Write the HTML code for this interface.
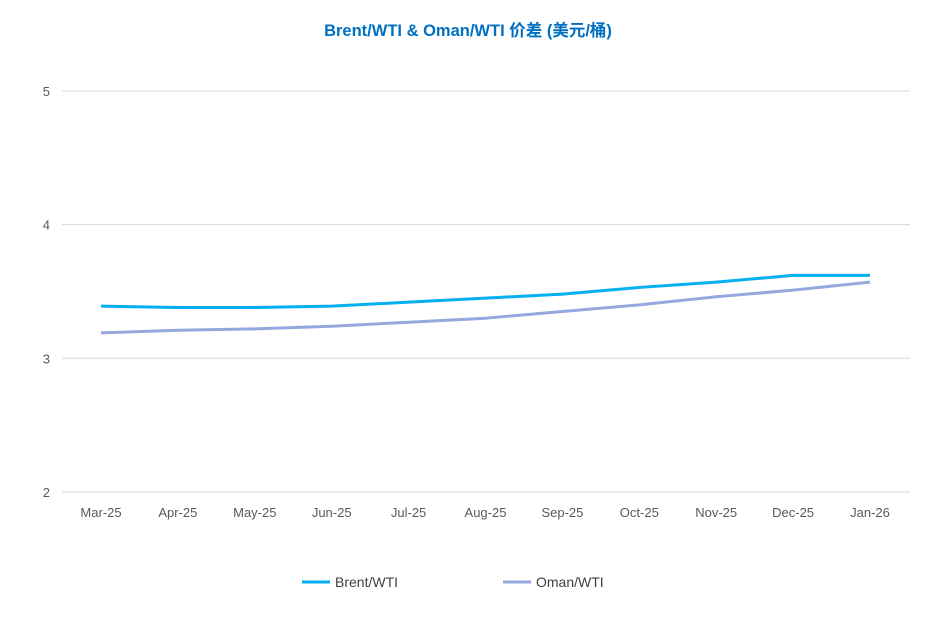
<!DOCTYPE html>
<html><head><meta charset="utf-8"><style>
body{margin:0;background:#fff;}
svg{display:block;font-family:"Liberation Sans","Noto Sans CJK SC",sans-serif;}
</style></head><body>
<svg id="chart" width="937" height="634">
<text x="468" y="36" text-anchor="middle" font-size="16.5" font-weight="bold" fill="#0070C0">Brent/WTI &amp; Oman/WTI 价差 (美元/桶)</text>
<g id="grid"></g><g id="xl"></g><g id="series"></g>
<g>
<line x1="302" y1="582" x2="330" y2="582" stroke="#00B0F0" stroke-width="3"/>
<text x="335" y="587" font-size="14" fill="#404040">Brent/WTI</text>
<line x1="503" y1="582" x2="531" y2="582" stroke="#95A8DE" stroke-width="3"/>
<text x="536" y="587" font-size="14" fill="#404040">Oman/WTI</text>
</g>
</svg>
<script>
const categories=["Mar-25","Apr-25","May-25","Jun-25","Jul-25","Aug-25","Sep-25","Oct-25","Nov-25","Dec-25","Jan-26"];
const brentWti=[3.39,3.38,3.38,3.39,3.42,3.45,3.48,3.53,3.57,3.62,3.62];
const omanWti=[3.19,3.21,3.22,3.24,3.27,3.30,3.35,3.40,3.46,3.51,3.57];
const yTicks=[2,3,4,5];
const NS="http://www.w3.org/2000/svg";
const y=v=>492-(v-2)*133.7;
const x=i=>101+i*76.9;
function mk(t,a,p){const e=document.createElementNS(NS,t);for(const k in a)e.setAttribute(k,a[k]);p.appendChild(e);return e;}
const g=document.getElementById('grid');
yTicks.forEach(t=>{
const l=mk('line',{x1:62,x2:910,y1:y(t),y2:y(t),stroke:'#D9D9D9','stroke-width':1},g);


const tx=mk('text',{x:50,y:y(t)+5,'text-anchor':'end','font-size':13,fill:'#595959'},g);
tx.textContent=t;


});
const xl=document.getElementById('xl');
categories.forEach((c,i)=>{
const tx=mk('text',{x:x(i),y:517,'text-anchor':'middle','font-size':13,fill:'#595959'},xl);
tx.textContent=c;


});
const s=document.getElementById('series');
[[brentWti,'#00B0F0','brent-wti-line'],[omanWti,'#95A8DE','oman-wti-line']].forEach(([d,c,n])=>{
const p=mk('polyline',{points:d.map((v,i)=>x(i)+','+y(v)).join(' '),fill:'none',stroke:c,'stroke-width':3,'stroke-linejoin':'round'},s);


});
</script>
</body></html>
